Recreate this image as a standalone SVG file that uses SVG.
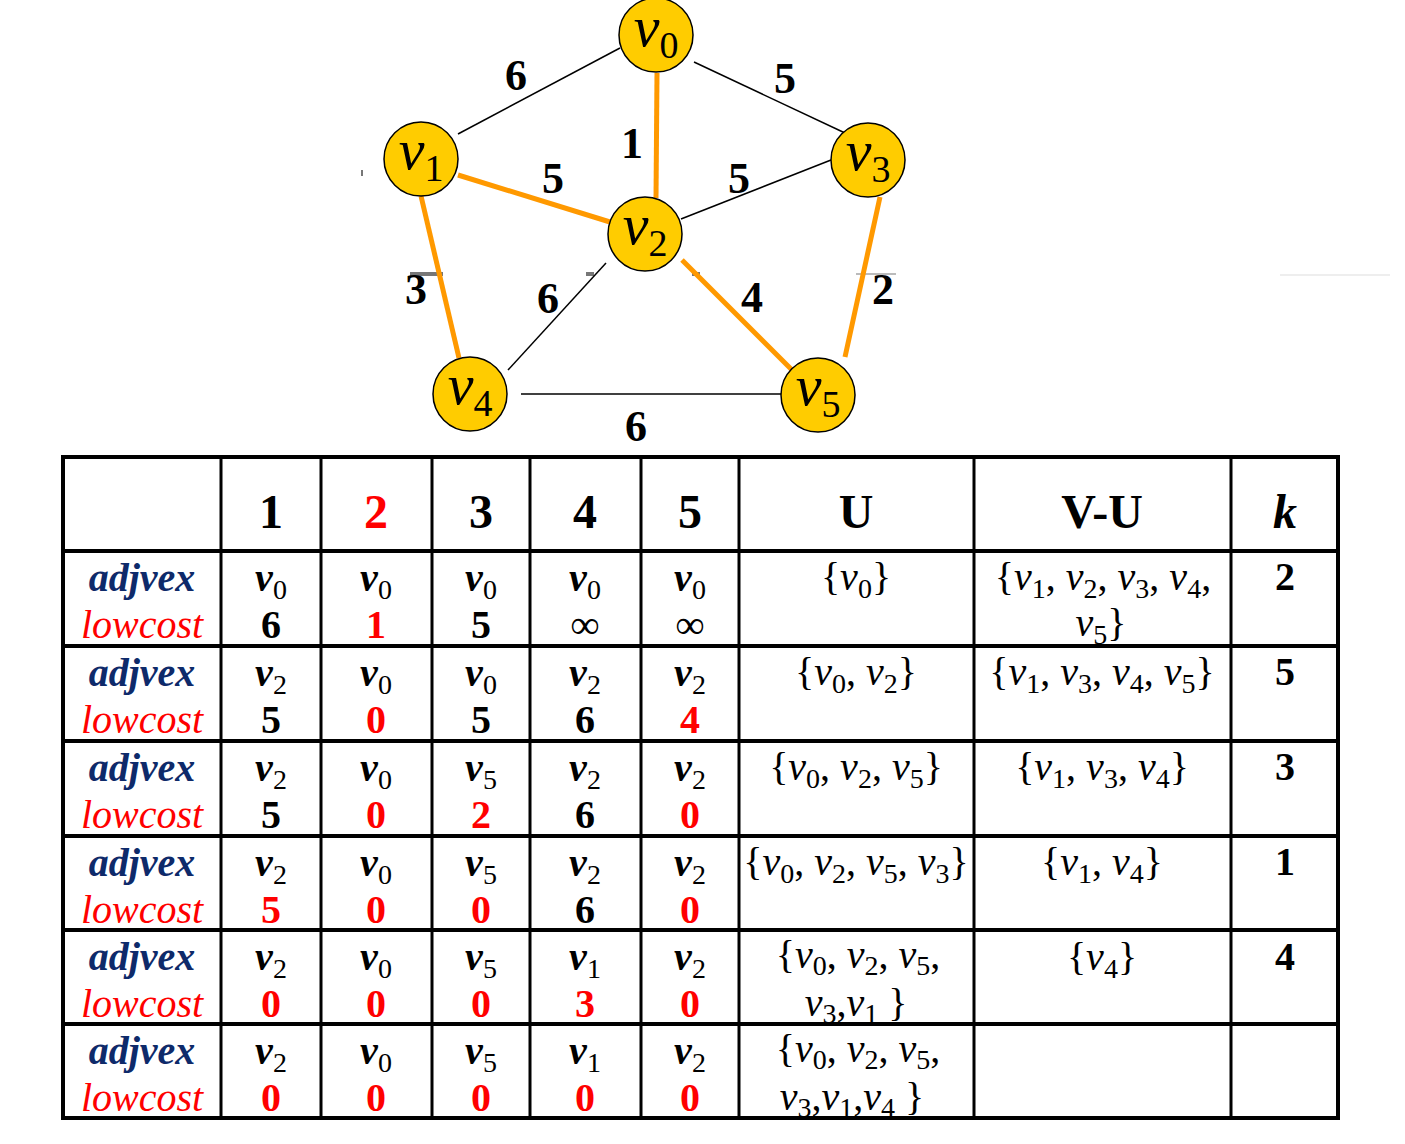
<svg xmlns="http://www.w3.org/2000/svg" width="1405" height="1144" viewBox="0 0 1405 1144">
<style>
text{font-family:"Liberation Serif","Times New Roman",serif;}
.node circle{fill:#FFCC00;stroke:#000;stroke-width:1.5;}
.nl{font-size:58px;text-anchor:middle;}
.nl .v{font-style:italic;}
.nl .s{font-size:38px;}
.e{stroke:#000;stroke-width:1.5;fill:none;}
.o{stroke:#FF9900;stroke-width:5;fill:none;}
.w{font-size:44px;font-weight:bold;text-anchor:middle;}
.grid line{stroke:#000;}
.h{stroke-width:4;}
.vt{stroke-width:3;}
.hd{font-size:48px;font-weight:bold;text-anchor:middle;}
.adj{font-size:40px;font-weight:bold;font-style:italic;fill:#0E2A6A;text-anchor:middle;}
.low{font-size:40px;font-style:italic;fill:#FF0000;text-anchor:middle;}
.cv{font-size:40px;font-weight:bold;text-anchor:middle;}
.cv .v{font-style:italic;}
.cv .s{font-size:28px;font-weight:normal;}
.num{font-size:40px;font-weight:bold;text-anchor:middle;}
.red{fill:#FF0000;}
.set{font-size:40px;text-anchor:middle;}
.set .v{font-style:italic;}
.set .s{font-size:28px;}
.art{fill:#777;}
</style>

<g id="artifacts">
<rect class="art" x="410" y="272" width="33" height="4"/>
<rect class="art" x="586" y="272" width="8" height="4"/>
<rect class="art" x="692" y="272" width="8" height="4"/>
<rect x="856" y="273" width="40" height="2" fill="#bbb"/>
<rect x="1280" y="274" width="110" height="2" fill="#eee"/>
<rect class="art" x="361" y="170" width="2" height="6"/>
</g>

<g id="connectors">
<line class="e" x1="620" y1="48" x2="458" y2="134"/>
<line class="e" x1="694" y1="62" x2="845" y2="133"/>
<line class="e" x1="681" y1="219" x2="831" y2="160"/>
<line class="e" x1="606" y1="263" x2="508" y2="370"/>
<line class="e" x1="521" y1="394" x2="781" y2="394"/>
<line class="o" x1="657" y1="73" x2="656" y2="198"/>
<line class="o" x1="458" y1="175" x2="610" y2="222"/>
<line class="o" x1="421" y1="196" x2="459" y2="358"/>
<line class="o" x1="880" y1="197" x2="845" y2="357"/>
<line class="o" x1="682" y1="260" x2="795" y2="373"/>
<text class="w" x="516" y="90">6</text>
<text class="w" x="785" y="93">5</text>
<text class="w" x="632" y="158">1</text>
<text class="w" x="553" y="193">5</text>
<text class="w" x="739" y="193">5</text>
<text class="w" x="416" y="304">3</text>
<text class="w" x="548" y="313">6</text>
<text class="w" x="752" y="312">4</text>
<text class="w" x="883" y="304">2</text>
<text class="w" x="636" y="441">6</text>
</g>

<g id="v0" class="node"><circle cx="656" cy="35" r="37"/><text class="nl" x="656" y="46"><tspan class="v">v</tspan><tspan class="s" dy="12">0</tspan></text></g>
<g id="v1" class="node"><circle cx="421" cy="159" r="37"/><text class="nl" x="421" y="169"><tspan class="v">v</tspan><tspan class="s" dy="12">1</tspan></text></g>
<g id="v3" class="node"><circle cx="868" cy="160" r="37"/><text class="nl" x="868" y="170"><tspan class="v">v</tspan><tspan class="s" dy="12">3</tspan></text></g>
<g id="v2" class="node"><circle cx="645" cy="234" r="37"/><text class="nl" x="645" y="244"><tspan class="v">v</tspan><tspan class="s" dy="12">2</tspan></text></g>
<g id="v4" class="node"><circle cx="470" cy="394" r="37"/><text class="nl" x="470" y="404"><tspan class="v">v</tspan><tspan class="s" dy="12">4</tspan></text></g>
<g id="v5" class="node"><circle cx="818" cy="395" r="37"/><text class="nl" x="818" y="405"><tspan class="v">v</tspan><tspan class="s" dy="12">5</tspan></text></g>

<g id="table">
<g class="grid">
<line class="h" x1="61" y1="457" x2="1340" y2="457"/>
<line class="h" x1="61" y1="551" x2="1340" y2="551"/>
<line class="h" x1="61" y1="646" x2="1340" y2="646"/>
<line class="h" x1="61" y1="741" x2="1340" y2="741"/>
<line class="h" x1="61" y1="836" x2="1340" y2="836"/>
<line class="h" x1="61" y1="930" x2="1340" y2="930"/>
<line class="h" x1="61" y1="1024" x2="1340" y2="1024"/>
<line class="h" x1="61" y1="1118" x2="1340" y2="1118"/>
<line class="h" x1="63" y1="455" x2="63" y2="1120"/>
<line class="h" x1="1338" y1="455" x2="1338" y2="1120"/>
<line class="vt" x1="221" y1="457" x2="221" y2="1118"/>
<line class="vt" x1="321" y1="457" x2="321" y2="1118"/>
<line class="vt" x1="432" y1="457" x2="432" y2="1118"/>
<line class="vt" x1="530" y1="457" x2="530" y2="1118"/>
<line class="vt" x1="641" y1="457" x2="641" y2="1118"/>
<line class="vt" x1="739" y1="457" x2="739" y2="1118"/>
<line class="vt" x1="974" y1="457" x2="974" y2="1118"/>
<line class="vt" x1="1231" y1="457" x2="1231" y2="1118"/>
</g>

<g id="header">
<text class="hd" x="271" y="528">1</text>
<text class="hd red" x="376" y="528">2</text>
<text class="hd" x="481" y="528">3</text>
<text class="hd" x="585" y="528">4</text>
<text class="hd" x="690" y="528">5</text>
<text class="hd" x="856" y="528">U</text>
<text class="hd" x="1102" y="528">V-U</text>
<text class="hd" x="1285" y="528" font-style="italic">k</text>
</g>

<g id="row1">
<text class="adj" x="142" y="591">adjvex</text>
<text class="low" x="142" y="638">lowcost</text>
<text class="cv" x="271" y="591"><tspan class="v">v</tspan><tspan class="s" dy="8">0</tspan></text>
<text class="cv" x="376" y="591"><tspan class="v">v</tspan><tspan class="s" dy="8">0</tspan></text>
<text class="cv" x="481" y="591"><tspan class="v">v</tspan><tspan class="s" dy="8">0</tspan></text>
<text class="cv" x="585" y="591"><tspan class="v">v</tspan><tspan class="s" dy="8">0</tspan></text>
<text class="cv" x="690" y="591"><tspan class="v">v</tspan><tspan class="s" dy="8">0</tspan></text>
<text class="num" x="271" y="638">6</text>
<text class="num red" x="376" y="638">1</text>
<text class="num" x="481" y="638">5</text>
<text class="num" x="585" y="638" font-weight="normal">∞</text>
<text class="num" x="690" y="638" font-weight="normal">∞</text>
<text class="set" x="856" y="590">{<tspan class="v">v</tspan><tspan class="s" dy="8">0</tspan><tspan dy="-8">}</tspan></text>
<text class="set" x="1103" y="590">{<tspan class="v">v</tspan><tspan class="s" dy="8">1</tspan><tspan dy="-8">, </tspan><tspan class="v">v</tspan><tspan class="s" dy="8">2</tspan><tspan dy="-8">, </tspan><tspan class="v">v</tspan><tspan class="s" dy="8">3</tspan><tspan dy="-8">, </tspan><tspan class="v">v</tspan><tspan class="s" dy="8">4</tspan><tspan dy="-8">,</tspan></text>
<text class="set" x="1101" y="636"><tspan class="v">v</tspan><tspan class="s" dy="8">5</tspan><tspan dy="-8">}</tspan></text>
<text class="num" x="1285" y="590">2</text>
</g>

<g id="row2">
<text class="adj" x="142" y="686">adjvex</text>
<text class="low" x="142" y="733">lowcost</text>
<text class="cv" x="271" y="686"><tspan class="v">v</tspan><tspan class="s" dy="8">2</tspan></text>
<text class="cv" x="376" y="686"><tspan class="v">v</tspan><tspan class="s" dy="8">0</tspan></text>
<text class="cv" x="481" y="686"><tspan class="v">v</tspan><tspan class="s" dy="8">0</tspan></text>
<text class="cv" x="585" y="686"><tspan class="v">v</tspan><tspan class="s" dy="8">2</tspan></text>
<text class="cv" x="690" y="686"><tspan class="v">v</tspan><tspan class="s" dy="8">2</tspan></text>
<text class="num" x="271" y="733">5</text>
<text class="num red" x="376" y="733">0</text>
<text class="num" x="481" y="733">5</text>
<text class="num" x="585" y="733">6</text>
<text class="num red" x="690" y="733">4</text>
<text class="set" x="856" y="685">{<tspan class="v">v</tspan><tspan class="s" dy="8">0</tspan><tspan dy="-8">, </tspan><tspan class="v">v</tspan><tspan class="s" dy="8">2</tspan><tspan dy="-8">}</tspan></text>
<text class="set" x="1102" y="685">{<tspan class="v">v</tspan><tspan class="s" dy="8">1</tspan><tspan dy="-8">,  </tspan><tspan class="v">v</tspan><tspan class="s" dy="8">3</tspan><tspan dy="-8">, </tspan><tspan class="v">v</tspan><tspan class="s" dy="8">4</tspan><tspan dy="-8">, </tspan><tspan class="v">v</tspan><tspan class="s" dy="8">5</tspan><tspan dy="-8">}</tspan></text>
<text class="num" x="1285" y="685">5</text>
</g>

<g id="row3">
<text class="adj" x="142" y="781">adjvex</text>
<text class="low" x="142" y="828">lowcost</text>
<text class="cv" x="271" y="781"><tspan class="v">v</tspan><tspan class="s" dy="8">2</tspan></text>
<text class="cv" x="376" y="781"><tspan class="v">v</tspan><tspan class="s" dy="8">0</tspan></text>
<text class="cv" x="481" y="781"><tspan class="v">v</tspan><tspan class="s" dy="8">5</tspan></text>
<text class="cv" x="585" y="781"><tspan class="v">v</tspan><tspan class="s" dy="8">2</tspan></text>
<text class="cv" x="690" y="781"><tspan class="v">v</tspan><tspan class="s" dy="8">2</tspan></text>
<text class="num" x="271" y="828">5</text>
<text class="num red" x="376" y="828">0</text>
<text class="num red" x="481" y="828">2</text>
<text class="num" x="585" y="828">6</text>
<text class="num red" x="690" y="828">0</text>
<text class="set" x="856" y="780">{<tspan class="v">v</tspan><tspan class="s" dy="8">0</tspan><tspan dy="-8">, </tspan><tspan class="v">v</tspan><tspan class="s" dy="8">2</tspan><tspan dy="-8">, </tspan><tspan class="v">v</tspan><tspan class="s" dy="8">5</tspan><tspan dy="-8">}</tspan></text>
<text class="set" x="1102" y="780">{<tspan class="v">v</tspan><tspan class="s" dy="8">1</tspan><tspan dy="-8">,  </tspan><tspan class="v">v</tspan><tspan class="s" dy="8">3</tspan><tspan dy="-8">, </tspan><tspan class="v">v</tspan><tspan class="s" dy="8">4</tspan><tspan dy="-8">}</tspan></text>
<text class="num" x="1285" y="780">3</text>
</g>

<g id="row4">
<text class="adj" x="142" y="876">adjvex</text>
<text class="low" x="142" y="923">lowcost</text>
<text class="cv" x="271" y="876"><tspan class="v">v</tspan><tspan class="s" dy="8">2</tspan></text>
<text class="cv" x="376" y="876"><tspan class="v">v</tspan><tspan class="s" dy="8">0</tspan></text>
<text class="cv" x="481" y="876"><tspan class="v">v</tspan><tspan class="s" dy="8">5</tspan></text>
<text class="cv" x="585" y="876"><tspan class="v">v</tspan><tspan class="s" dy="8">2</tspan></text>
<text class="cv" x="690" y="876"><tspan class="v">v</tspan><tspan class="s" dy="8">2</tspan></text>
<text class="num red" x="271" y="923">5</text>
<text class="num red" x="376" y="923">0</text>
<text class="num red" x="481" y="923">0</text>
<text class="num" x="585" y="923">6</text>
<text class="num red" x="690" y="923">0</text>
<text class="set" x="856" y="875">{<tspan class="v">v</tspan><tspan class="s" dy="8">0</tspan><tspan dy="-8">, </tspan><tspan class="v">v</tspan><tspan class="s" dy="8">2</tspan><tspan dy="-8">, </tspan><tspan class="v">v</tspan><tspan class="s" dy="8">5</tspan><tspan dy="-8">,  </tspan><tspan class="v">v</tspan><tspan class="s" dy="8">3</tspan><tspan dy="-8">}</tspan></text>
<text class="set" x="1102" y="875">{<tspan class="v">v</tspan><tspan class="s" dy="8">1</tspan><tspan dy="-8">, </tspan><tspan class="v">v</tspan><tspan class="s" dy="8">4</tspan><tspan dy="-8">}</tspan></text>
<text class="num" x="1285" y="875">1</text>
</g>

<g id="row5">
<text class="adj" x="142" y="970">adjvex</text>
<text class="low" x="142" y="1017">lowcost</text>
<text class="cv" x="271" y="970"><tspan class="v">v</tspan><tspan class="s" dy="8">2</tspan></text>
<text class="cv" x="376" y="970"><tspan class="v">v</tspan><tspan class="s" dy="8">0</tspan></text>
<text class="cv" x="481" y="970"><tspan class="v">v</tspan><tspan class="s" dy="8">5</tspan></text>
<text class="cv" x="585" y="970"><tspan class="v">v</tspan><tspan class="s" dy="8">1</tspan></text>
<text class="cv" x="690" y="970"><tspan class="v">v</tspan><tspan class="s" dy="8">2</tspan></text>
<text class="num red" x="271" y="1017">0</text>
<text class="num red" x="376" y="1017">0</text>
<text class="num red" x="481" y="1017">0</text>
<text class="num red" x="585" y="1017">3</text>
<text class="num red" x="690" y="1017">0</text>
<text class="set" x="858" y="968">{<tspan class="v">v</tspan><tspan class="s" dy="7">0</tspan><tspan dy="-7">, </tspan><tspan class="v">v</tspan><tspan class="s" dy="7">2</tspan><tspan dy="-7">, </tspan><tspan class="v">v</tspan><tspan class="s" dy="7">5</tspan><tspan dy="-7">,</tspan></text>
<text class="set" x="856" y="1016"><tspan class="v">v</tspan><tspan class="s" dy="7">3</tspan><tspan dy="-7">,</tspan><tspan class="v">v</tspan><tspan class="s" dy="7">1</tspan><tspan dy="-7"> }</tspan></text>
<text class="set" x="1102" y="970">{<tspan class="v">v</tspan><tspan class="s" dy="8">4</tspan><tspan dy="-8">}</tspan></text>
<text class="num" x="1285" y="970">4</text>
</g>

<g id="row6">
<text class="adj" x="142" y="1064">adjvex</text>
<text class="low" x="142" y="1111">lowcost</text>
<text class="cv" x="271" y="1064"><tspan class="v">v</tspan><tspan class="s" dy="8">2</tspan></text>
<text class="cv" x="376" y="1064"><tspan class="v">v</tspan><tspan class="s" dy="8">0</tspan></text>
<text class="cv" x="481" y="1064"><tspan class="v">v</tspan><tspan class="s" dy="8">5</tspan></text>
<text class="cv" x="585" y="1064"><tspan class="v">v</tspan><tspan class="s" dy="8">1</tspan></text>
<text class="cv" x="690" y="1064"><tspan class="v">v</tspan><tspan class="s" dy="8">2</tspan></text>
<text class="num red" x="271" y="1111">0</text>
<text class="num red" x="376" y="1111">0</text>
<text class="num red" x="481" y="1111">0</text>
<text class="num red" x="585" y="1111">0</text>
<text class="num red" x="690" y="1111">0</text>
<text class="set" x="858" y="1062">{<tspan class="v">v</tspan><tspan class="s" dy="7">0</tspan><tspan dy="-7">, </tspan><tspan class="v">v</tspan><tspan class="s" dy="7">2</tspan><tspan dy="-7">, </tspan><tspan class="v">v</tspan><tspan class="s" dy="7">5</tspan><tspan dy="-7">,</tspan></text>
<text class="set" x="852" y="1110"><tspan class="v">v</tspan><tspan class="s" dy="7">3</tspan><tspan dy="-7">,</tspan><tspan class="v">v</tspan><tspan class="s" dy="7">1</tspan><tspan dy="-7">,</tspan><tspan class="v">v</tspan><tspan class="s" dy="7">4</tspan><tspan dy="-7"> }</tspan></text>
</g>
</g>
</svg>
